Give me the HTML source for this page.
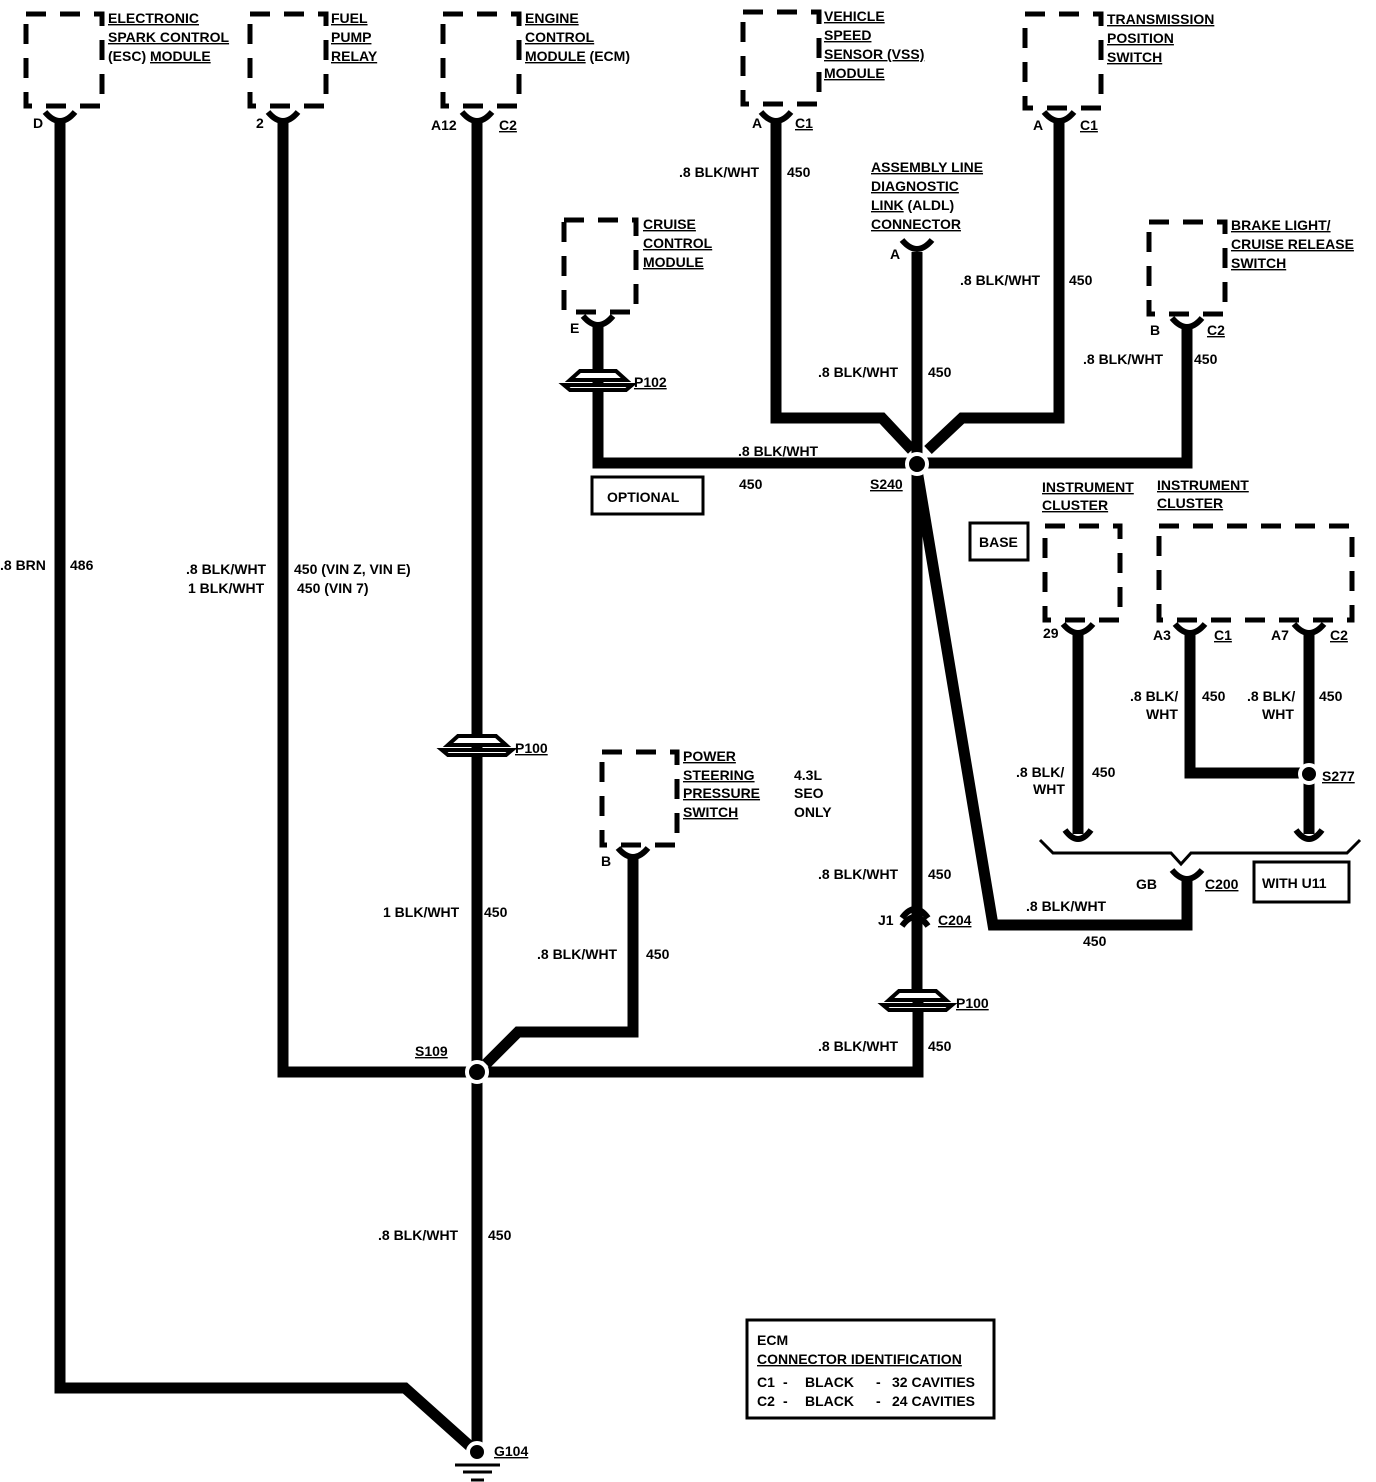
<!DOCTYPE html>
<html><head><meta charset="utf-8"><style>
html,body{margin:0;padding:0;background:#fff}
svg{display:block}
text{font-family:"Liberation Sans",sans-serif;font-weight:bold;font-size:14px;fill:#000}
.u{text-decoration:underline}
.w{stroke:#000;stroke-width:11;fill:none;stroke-linejoin:miter}
.b{stroke:#000;stroke-width:5;fill:none;stroke-dasharray:20 14}
.c{stroke:#000;stroke-width:6;fill:none}
.r{stroke:#000;stroke-width:3;fill:none}
</style></head><body>
<svg width="1376" height="1482" viewBox="0 0 1376 1482" xmlns="http://www.w3.org/2000/svg">
<rect class="b" x="26" y="14" width="76" height="92"/>
<rect class="b" x="250" y="14" width="76" height="92"/>
<rect class="b" x="443" y="14" width="76" height="92"/>
<rect class="b" x="743" y="12" width="76" height="92"/>
<rect class="b" x="1025" y="14" width="76" height="94"/>
<rect class="b" x="564" y="220" width="72" height="92"/>
<rect class="b" x="1149" y="222" width="76" height="92"/>
<rect class="b" x="1045" y="526" width="75" height="94"/>
<rect class="b" x="1159" y="526" width="193" height="94"/>
<rect class="b" x="602" y="752" width="75" height="93"/>

<g class="c">
<path d="M45 112 Q60 130 75 112"/>
<path d="M268 112 Q283 130 298 112"/>
<path d="M462 112 Q477 130 492 112"/>
<path d="M761 112 Q776 130 791 112"/>
<path d="M1044 112 Q1059 130 1074 112"/>
<path d="M902 240 Q917 258 932 240"/>
<path d="M583 316 Q598 334 613 316"/>
<path d="M1172 318 Q1187 336 1202 318"/>
<path d="M1063 624 Q1078 642 1093 624"/>
<path d="M1175 624 Q1190 642 1205 624"/>
<path d="M1294 624 Q1309 642 1324 624"/>
<path d="M618 848 Q633 866 648 848"/>
<path d="M1172 870 Q1187 888 1202 870"/>
<path d="M902 918 Q915 900 928 918"/>
<path d="M902 926 Q915 908 928 926"/>
</g>

<path class="w" d="M60 122 V1388 H405 L472 1448"/>
<path class="w" d="M283 122 V1072 H918 V1000"/>
<path class="w" d="M477 122 V1448"/>
<path class="w" d="M776 122 V418 H882 L912 450"/>
<path class="w" d="M1059 122 V418 H962 L928 450"/>
<path class="w" d="M917 252 V1000"/>
<path class="w" d="M598 324 V463 H917 H1187 V326"/>
<path class="w" d="M917 470 L993 925 H1187 V880"/>
<path class="w" d="M1078 634 V834"/>
<path class="w" d="M1190 634 V773 H1309"/>
<path class="w" d="M1309 634 V834"/>
<path class="w" d="M633 858 V1032 H518 L486 1064"/>
<path class="c" d="M1065 830 Q1078 848 1091 830"/>
<path class="c" d="M1296 830 Q1309 848 1322 830"/>
<path class="r" d="M1040 840 L1053 853 H1171 L1181 864 L1191 853 H1347 L1360 840"/>

<g fill="#000" stroke="#fff" stroke-width="4">
<circle cx="917" cy="464" r="10"/>
<circle cx="477" cy="1072" r="10"/>
<circle cx="1309" cy="774" r="9"/>
<circle cx="477" cy="1452" r="9"/>
</g>

<g fill="#fff" stroke="#000" stroke-width="4">
<path d="M570 380 L580 371 H616 L626 380 Z"/><path d="M564 385 H632 L626 390 H570 Z"/>
<path d="M448 745 L458 736 H496 L506 745 Z"/><path d="M442 750 H512 L506 755 H448 Z"/>
<path d="M889 1000 L899 991 H936 L946 1000 Z"/><path d="M883 1005 H952 L946 1010 H889 Z"/>
</g>

<path d="M455 1465 H500 M463 1472 H492 M471 1480 H484" stroke="#000" stroke-width="3"/>

<rect class="r" x="592" y="477" width="111" height="37"/>
<rect class="r" x="970" y="523" width="58" height="37"/>
<rect class="r" x="1254" y="862" width="95" height="40"/>
<rect class="r" x="747" y="1320" width="247" height="98"/>

<text class="u" x="108" y="23">ELECTRONIC</text>
<text class="u" x="108" y="42">SPARK CONTROL</text>
<text x="108" y="61">(ESC) <tspan class="u">MODULE</tspan></text>
<text class="u" x="331" y="23">FUEL</text>
<text class="u" x="331" y="42">PUMP</text>
<text class="u" x="331" y="61">RELAY</text>
<text class="u" x="525" y="23">ENGINE</text>
<text class="u" x="525" y="42">CONTROL</text>
<text x="525" y="61"><tspan class="u">MODULE</tspan> (ECM)</text>
<text class="u" x="824" y="21">VEHICLE</text>
<text class="u" x="824" y="40">SPEED</text>
<text class="u" x="824" y="59">SENSOR (VSS)</text>
<text class="u" x="824" y="78">MODULE</text>
<text class="u" x="1107" y="24">TRANSMISSION</text>
<text class="u" x="1107" y="43">POSITION</text>
<text class="u" x="1107" y="62">SWITCH</text>
<text x="33" y="128">D</text>
<text x="256" y="128">2</text>
<text x="431" y="130">A12</text>
<text class="u" x="499" y="130">C2</text>
<text x="752" y="128">A</text>
<text class="u" x="795" y="128">C1</text>
<text x="1033" y="130">A</text>
<text class="u" x="1080" y="130">C1</text>
<text x="679" y="177">.8 BLK/WHT</text><text x="787" y="177">450</text>
<text class="u" x="871" y="172">ASSEMBLY LINE</text>
<text class="u" x="871" y="191">DIAGNOSTIC</text>
<text x="871" y="210"><tspan class="u">LINK</tspan> (ALDL)</text>
<text class="u" x="871" y="229">CONNECTOR</text>
<text x="890" y="259">A</text>
<text x="960" y="285">.8 BLK/WHT</text><text x="1069" y="285">450</text>
<text class="u" x="643" y="229">CRUISE</text>
<text class="u" x="643" y="248">CONTROL</text>
<text class="u" x="643" y="267">MODULE</text>
<text class="u" x="1231" y="230">BRAKE LIGHT/</text>
<text class="u" x="1231" y="249">CRUISE RELEASE</text>
<text class="u" x="1231" y="268">SWITCH</text>
<text x="570" y="333">E</text>
<text x="1150" y="335">B</text>
<text class="u" x="1207" y="335">C2</text>
<text x="1083" y="364">.8 BLK/WHT</text><text x="1194" y="364">450</text>
<text class="u" x="634" y="387">P102</text>
<text x="818" y="377">.8 BLK/WHT</text><text x="928" y="377">450</text>
<text x="738" y="456">.8 BLK/WHT</text>
<text x="739" y="489">450</text>
<text class="u" x="870" y="489">S240</text>
<text x="607" y="502">OPTIONAL</text>
<text x="979" y="547">BASE</text>
<text x="1262" y="888">WITH U11</text>
<text class="u" x="1042" y="492">INSTRUMENT</text>
<text class="u" x="1042" y="510">CLUSTER</text>
<text class="u" x="1157" y="490">INSTRUMENT</text>
<text class="u" x="1157" y="508">CLUSTER</text>
<text x="1043" y="638">29</text>
<text x="1153" y="640">A3</text>
<text class="u" x="1214" y="640">C1</text>
<text x="1271" y="640">A7</text>
<text class="u" x="1330" y="640">C2</text>
<text x="1130" y="701">.8 BLK/</text><text x="1146" y="719">WHT</text><text x="1202" y="701">450</text>
<text x="1247" y="701">.8 BLK/</text><text x="1262" y="719">WHT</text><text x="1319" y="701">450</text>
<text x="1016" y="777">.8 BLK/</text><text x="1033" y="794">WHT</text><text x="1092" y="777">450</text>
<text class="u" x="1322" y="781">S277</text>
<text x="1136" y="889">GB</text>
<text class="u" x="1205" y="889">C200</text>
<text x="1026" y="911">.8 BLK/WHT</text>
<text x="1083" y="946">450</text>
<text x="0" y="570">.8 BRN</text><text x="70" y="570">486</text>
<text x="186" y="574">.8 BLK/WHT</text><text x="294" y="574">450 (VIN Z, VIN E)</text>
<text x="188" y="593">1 BLK/WHT</text><text x="297" y="593">450 (VIN 7)</text>
<text class="u" x="515" y="753">P100</text>
<text class="u" x="683" y="761">POWER</text>
<text class="u" x="683" y="780">STEERING</text>
<text class="u" x="683" y="798">PRESSURE</text>
<text class="u" x="683" y="817">SWITCH</text>
<text x="794" y="780">4.3L</text><text x="794" y="798">SEO</text><text x="794" y="817">ONLY</text>
<text x="601" y="866">B</text>
<text x="818" y="879">.8 BLK/WHT</text><text x="928" y="879">450</text>
<text x="878" y="925">J1</text>
<text class="u" x="938" y="925">C204</text>
<text x="383" y="917">1 BLK/WHT</text><text x="484" y="917">450</text>
<text x="537" y="959">.8 BLK/WHT</text><text x="646" y="959">450</text>
<text class="u" x="956" y="1008">P100</text>
<text x="818" y="1051">.8 BLK/WHT</text><text x="928" y="1051">450</text>
<text class="u" x="415" y="1056">S109</text>
<text x="378" y="1240">.8 BLK/WHT</text><text x="488" y="1240">450</text>
<text class="u" x="494" y="1456">G104</text>
<text x="757" y="1345">ECM</text>
<text class="u" x="757" y="1364">CONNECTOR IDENTIFICATION</text>
<text x="757" y="1387">C1</text><text x="783" y="1387">-</text><text x="805" y="1387">BLACK</text><text x="876" y="1387">-</text><text x="892" y="1387">32 CAVITIES</text>
<text x="757" y="1406">C2</text><text x="783" y="1406">-</text><text x="805" y="1406">BLACK</text><text x="876" y="1406">-</text><text x="892" y="1406">24 CAVITIES</text>
</svg>
</body></html>
